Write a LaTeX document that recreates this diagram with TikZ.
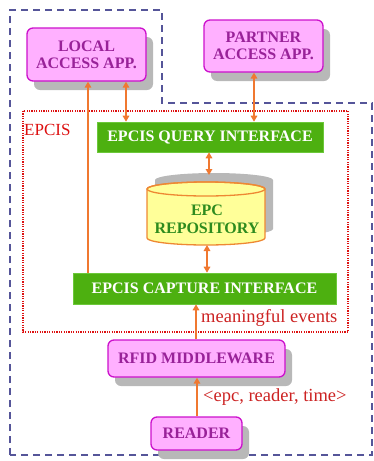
\documentclass[tikz,border=0pt]{standalone}
\usepackage{fontspec}
\setmainfont{Liberation Serif}
\usetikzlibrary{arrows.meta,shadows,calc}

\definecolor{pinkfill}{HTML}{FFB0FF}
\definecolor{pinkline}{HTML}{CC11CC}
\definecolor{pinktext}{HTML}{992299}
\definecolor{ifgreen}{HTML}{4DB010}
\definecolor{ifgreenline}{HTML}{6CC83A}
\definecolor{cylyellow}{HTML}{FFFF99}
\definecolor{cylline}{HTML}{EE8833}
\definecolor{repotext}{HTML}{2E8B1E}
\definecolor{arrowc}{HTML}{F07830}
\definecolor{labelred}{HTML}{CC2222}
\definecolor{boundblue}{HTML}{555599}
\definecolor{boundred}{HTML}{DD1111}
\definecolor{shadowgray}{HTML}{B8B8B8}

\tikzset{
  appbox/.style={draw=pinkline, line width=1.3pt, fill=pinkfill, rounded corners=6pt,
    text=pinktext, font=\fontsize{16}{17}\selectfont\bfseries, align=center,
    drop shadow={shadow xshift=7pt, shadow yshift=-9pt, fill=shadowgray, opacity=1}},
  ifbox/.style={draw=ifgreenline, line width=0.6pt, fill=ifgreen, text=white,
    font=\fontsize{16}{17}\selectfont\bfseries},
  link/.style={draw=arrowc, line width=1.6pt},
  tip/.style={-{Triangle[length=6pt,width=6.5pt]}},
  twotip/.style={{Triangle[length=6pt,width=6.5pt]}-{Triangle[length=6pt,width=6.5pt]}},
  lbl/.style={text=labelred, font=\fontsize{18.5}{20}\selectfont, inner sep=0pt},
}

\begin{document}
\begin{tikzpicture}[x=1pt, y=-1pt]
\useasboundingbox (0,0) rectangle (373,461);

% enterprise boundary (dashed)
\draw[boundblue, line width=1.3pt, dash pattern=on 7pt off 5pt]
  (10,455) -- (10,10) -- (162,10) -- (162,103) -- (372,103) -- (372,455) -- cycle;

% EPCIS boundary (dotted)
\draw[boundred, line width=1.6pt, dash pattern=on 1.2pt off 1.2pt]
  (23,111) rectangle (348,332);
\node[anchor=base west, inner sep=0pt, text=boundred, font=\fontsize{17}{18}\selectfont] (epcislbl) at (24,135) {EPCIS};

% applications
\node[appbox, minimum width=119pt, minimum height=53pt] (local) at (86.5,54.5) {LOCAL\\ACCESS APP.};
\node[appbox, minimum width=119pt, minimum height=52pt] (partner) at (263.5,46) {PARTNER\\ACCESS APP.};

% interfaces
\node[ifbox, minimum width=226pt, minimum height=30pt] (query) at (210,137) {EPCIS QUERY INTERFACE};
\node[ifbox, minimum width=263pt, minimum height=31pt] (capture) at (204.5,288.5) {EPCIS CAPTURE INTERFACE};

% repository cylinder with its grey backdrop
\fill[shadowgray] (155,180) -- (155,229)
  arc[start angle=180, end angle=360, x radius=59pt, y radius=7pt]
  -- (273,180)
  arc[start angle=0, end angle=180, x radius=59pt, y radius=7pt] -- cycle;
\filldraw[fill=cylyellow, draw=cylline, line width=1.3pt] (147,189) -- (147,238)
  arc[start angle=180, end angle=360, x radius=59pt, y radius=7pt]
  -- (265,189)
  arc[start angle=0, end angle=180, x radius=59pt, y radius=7pt] -- cycle;
\draw[cylline, line width=1.3pt] (206,189) ellipse [x radius=59pt, y radius=7pt];
\node[text=repotext, font=\fontsize{16}{18}\selectfont\bfseries, align=center] (repo) at (207,219.5) {EPC\\REPOSITORY};
\coordinate (repotop) at (209,175);
\coordinate (repobot) at (207,245);

% RFID side
\node[appbox, minimum width=177pt, minimum height=37pt] (mw) at (196.5,358.5) {RFID MIDDLEWARE};
\node[appbox, minimum width=91pt, minimum height=33pt] (reader) at (196.5,433.5) {READER};

% connectors
\draw[link, tip] (capture.north -| 88,0) -- (local.south -| 88,0);
\draw[link, twotip] (local.south -| 126,0) -- (query.north -| 126,0);
\draw[link, twotip] (partner.south -| 254,0) -- (query.north -| 254,0);
\draw[link, twotip] (query.south -| repotop) -- (repotop);
\draw[link, twotip] (repobot) -- (capture.north -| repobot);
\draw[link, tip] (mw.north -| 196,0) -- (capture.south -| 196,0);
\draw[link, tip] (reader.north -| 197,0) -- (mw.south -| 197,0);

% flow labels
\node[lbl, anchor=base west] (evlbl) at (201,322) {meaningful events};
\node[lbl, anchor=base west] (rdlbl) at (203,401) {<epc, reader, time>};
\end{tikzpicture}
\end{document}
